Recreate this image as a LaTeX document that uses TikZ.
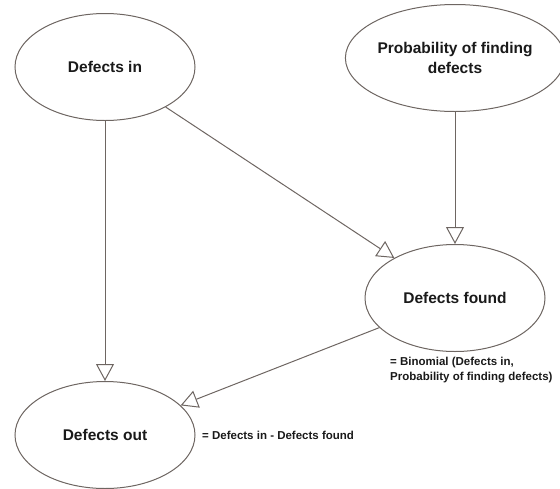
\documentclass[tikz,border=0pt]{standalone}
\usepackage{fontspec}
\setmainfont{Liberation Sans}
\usetikzlibrary{shapes.geometric,arrows.meta}
\definecolor{edgegray}{HTML}{6E6662}
\definecolor{txt}{HTML}{1A1A1A}
\tikzset{
  var/.style={ellipse, draw=edgegray, line width=1pt, fill=white, minimum width=180pt, minimum height=107pt, inner sep=0pt, align=center, font=\bfseries\fontsize{15.5}{20}\selectfont, text=txt},
  link/.style={draw=edgegray, line width=1pt, -{Triangle[open, length=17pt, width=18pt, fill=white]}},
  note/.style={anchor=west, align=left, inner sep=0pt, font=\bfseries\fontsize{11.5}{15}\selectfont, text=txt}
}
\begin{document}
\begin{tikzpicture}[x=1pt,y=-1pt]
\useasboundingbox (0,0) rectangle (560,488);
\node[var] (din) at (105,67) {Defects in};
\node[var] (prob) at (455,58) {Probability of finding\\defects};
\node[var] (found) at (455,298) {Defects found};
\node[var] (dout) at (105,435) {Defects out};
\draw[link] (din) -- (found);
\draw[link] (prob) -- (found);
\draw[link] (din) -- (dout);
\draw[link] (found) -- (dout);
\node[note] (fnote) at (390,370) {= Binomial (Defects in,\\Probability of finding defects)};
\node[note] (onote) at (202,435) {= Defects in - Defects found};
\end{tikzpicture}
\end{document}
